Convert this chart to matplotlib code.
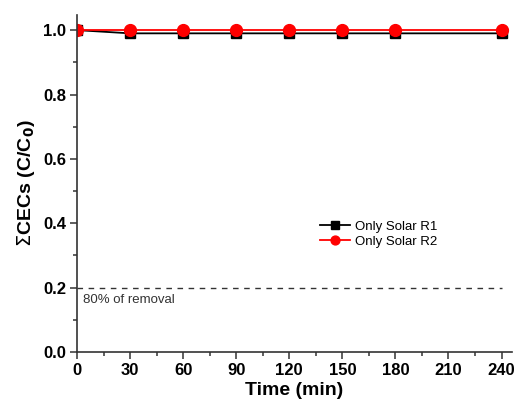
import numpy as np
import matplotlib.pyplot as plt
from matplotlib.ticker import MultipleLocator

plt.rcParams['font.family'] = ['Liberation Sans', 'DejaVu Sans']

time = [0, 30, 60, 90, 120, 150, 180, 240]
r1 = [1.0, 0.99, 0.99, 0.99, 0.99, 0.99, 0.99, 0.99]
r2 = [1.0, 1.0, 1.0, 1.0, 1.0, 1.0, 1.0, 1.0]
removal_level = 0.2

fig = plt.figure(figsize=(5.15, 4), dpi=100)
ax = fig.add_axes([0.1495, 0.12, 0.845, 0.8425])

ax.plot(time, r1, color='black', marker='s', markersize=7, linewidth=1.3,
        label='Only Solar R1')
ax.plot(time, r2, color='red', marker='o', markersize=8.5, linewidth=1.3,
        label='Only Solar R2')
ax.plot([0, 240], [removal_level, removal_level], color='#333333',
        linestyle=(0, (4, 4)), linewidth=1)
ax.text(3.5, 0.152, '80% of removal', fontsize=9.5, color='#333333')

ax.set_xlim(0, 246)
ax.set_ylim(0, 1.047)
ax.xaxis.set_major_locator(MultipleLocator(30))
ax.xaxis.set_minor_locator(MultipleLocator(15))
ax.yaxis.set_major_locator(MultipleLocator(0.2))
ax.yaxis.set_minor_locator(MultipleLocator(0.1))
ax.set_xticks([0, 30, 60, 90, 120, 150, 180, 210, 240])
ax.set_yticklabels([f'{v:.1f}' for v in ax.get_yticks()])

for s in ['top', 'right']:
    ax.spines[s].set_visible(False)
for s in ['left', 'bottom']:
    ax.spines[s].set_color('#333333')
    ax.spines[s].set_linewidth(1.2)

ax.tick_params(which='both', direction='out', color='#333333', width=1.1)
ax.tick_params(which='major', length=5, labelsize=12, pad=3)
ax.tick_params(which='minor', length=3)
for lbl in ax.get_xticklabels() + ax.get_yticklabels():
    lbl.set_fontweight('bold')

ax.set_xlabel('Time (min)', fontsize=14, fontweight='bold', labelpad=2.5)
ax.set_ylabel(r'$\Sigma$CECs (C/C$_\mathbf{0}$)', fontsize=14, fontweight='bold',
              labelpad=4)

ax.legend(loc='upper left', bbox_to_anchor=(0.53, 0.425), frameon=False,
          fontsize=9.5, handlelength=2.3, labelspacing=0.2, markerscale=0.75,
          handletextpad=0.4)

fig.savefig('out.png', dpi=100)
